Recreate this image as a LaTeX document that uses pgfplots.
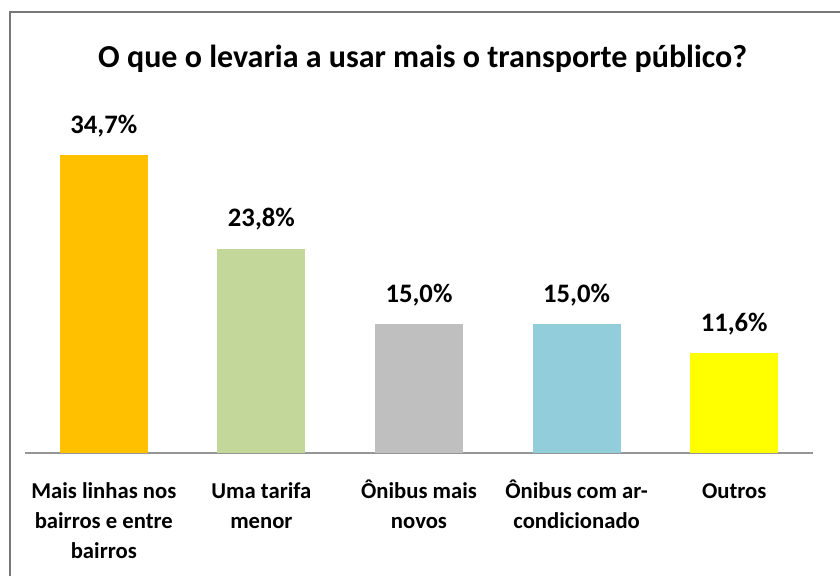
\documentclass[border=0pt]{standalone}
\usepackage{fontspec}
\setmainfont{Carlito}
\usepackage{pgfplots}
\pgfplotsset{compat=1.18}
\definecolor{cOrange}{RGB}{255,192,0}
\definecolor{cGreen}{RGB}{196,215,155}
\definecolor{cGray}{RGB}{191,191,191}
\definecolor{cBlue}{RGB}{146,205,220}
\definecolor{cYellow}{RGB}{255,255,0}
\definecolor{frameGray}{RGB}{120,120,120}
\definecolor{baseGray}{RGB}{150,150,150}
\begin{document}
\begin{tikzpicture}
\useasboundingbox (0,0) rectangle (630pt,432pt);
\fill[white] (0,0) rectangle (630pt,432pt);
% frame
\draw[frameGray, line width=1.6pt] (7.5pt,0) -- (7.5pt,423pt) -- (630pt,423pt);
% title
\node[anchor=base, font=\bfseries\fontsize{24}{28}\selectfont] at (317pt,381pt) {O que o levaria a usar mais o transporte público?};
\begin{axis}[
  at={(18.75pt,92.25pt)}, anchor=south west,
  scale only axis, width=591pt, height=257.7pt,
  xmin=-0.5, xmax=4.5, ymin=0, ymax=40,
  axis y line=none,
  axis x line*=bottom,
  axis line style={baseGray, line width=1.5pt, -},
  xtick={0,1,2,3,4},
  xticklabels={{\strut Mais linhas nos\\bairros e entre\\bairros},{\strut Uma tarifa\\menor},{\strut Ônibus mais\\novos},{\strut Ônibus com ar-\\condicionado},{\strut Outros}},
  major tick length=0pt,
  xticklabel style={align=center, anchor=north, yshift=-15pt, font=\bfseries\fontsize{17}{22.5}\selectfont},
  ybar, bar shift=0pt, bar width=66pt,
  /pgf/number format/assume math mode=true,
  nodes near coords={\pgfmathprintnumber[fixed,fixed zerofill,precision=1,use comma,assume math mode=true]{\pgfplotspointmeta}\%},
  nodes near coords style={anchor=south, yshift=10pt, font=\bfseries\fontsize{20}{24}\selectfont},
  clip=false,
]
\addplot[draw=none, fill=cOrange] coordinates {(0,34.7)};
\addplot[draw=none, fill=cGreen] coordinates {(1,23.8)};
\addplot[draw=none, fill=cGray] coordinates {(2,15.0)};
\addplot[draw=none, fill=cBlue] coordinates {(3,15.0)};
\addplot[draw=none, fill=cYellow] coordinates {(4,11.6)};
\end{axis}
\end{tikzpicture}
\end{document}
